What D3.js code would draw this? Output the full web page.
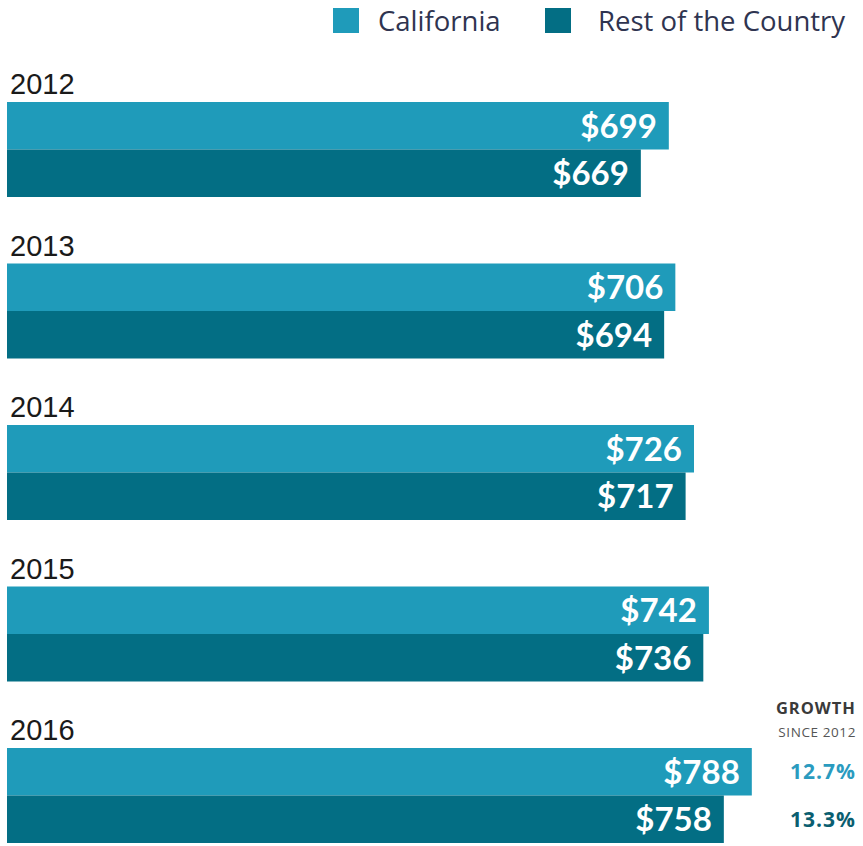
<!DOCTYPE html>
<html>
<head>
<meta charset="utf-8">
<script src="https://cdn.jsdelivr.net/npm/d3@7"></script>
<style>
  body { margin: 0; background: #fff; }
</style>
</head>
<body>
<div id="chart"></div>
<script>
const years = ["2012", "2013", "2014", "2015", "2016"];
const seriesNames = ["California", "Rest of the Country"];
const california = [699, 706, 726, 742, 788];
const restOfCountry = [669, 694, 717, 736, 758];
const growthLabels = ["12.7%", "13.3%"];

const colors = {"California": "#1f9bba", "Rest of the Country": "#036e84"};

const width = 863, height = 846;

const svg = d3.select("#chart")
    .append("svg")
    .attr("width", width)
    .attr("height", height);

const data = years.map((yr, i) => ({
    year: yr,
    values: [
        {name: seriesNames[0], value: california[i]},
        {name: seriesNames[1], value: restOfCountry[i]}
    ]
}));

// bars start at the left edge, value scale is not zero based in the original
const x = d3.scaleLinear()
    .domain([-10.7, 800])
    .range([7, 763]);

const y = d3.scaleBand()
    .domain(years)
    .range([102, 102 + 161.5 * years.length]);

const ySub = d3.scaleBand()
    .domain(seriesNames)
    .range([0, 95]);

const groups = svg.selectAll(".year")
    .data(data)
    .join("g")
    .attr("class", "year")
    .attr("transform", d => `translate(0,${y(d.year)})`);

groups.append("text")
    .attr("x", 10)
    .attr("y", -8)
    .style("font-family", "'Liberation Sans', Arial, sans-serif")
    .style("font-size", "29px")
    .style("fill", "#1a1a1a")
    .text(d => d.year);

groups.selectAll("rect")
    .data(d => d.values)
    .join("rect")
    .attr("x", x(-10.7))
    .attr("y", d => ySub(d.name))
    .attr("width", d => x(d.value) - x(-10.7))
    .attr("height", ySub.bandwidth())
    .attr("fill", d => colors[d.name]);

groups.selectAll(".val")
    .data(d => d.values)
    .join("text")
    .attr("class", "val")
    .attr("x", d => x(d.value) - 12)
    .attr("y", d => ySub(d.name) + ySub.bandwidth() / 2)
    .attr("dy", "0.36em")
    .attr("text-anchor", "end")
    .style("font-family", "Lato, sans-serif")
    .style("font-weight", "bold")
    .style("font-size", "33px")
    .style("fill", "#fff")
    .text(d => "$" + d.value);

// legend
const legend = svg.append("g");
const legendX = [333, 545];
const legendTextX = [378, 598];
seriesNames.forEach((name, i) => {
    legend.append("rect")
        .attr("x", legendX[i])
        .attr("y", 8)
        .attr("width", 26)
        .attr("height", 25)
        .attr("fill", colors[name]);
    legend.append("text")
        .attr("x", legendTextX[i])
        .attr("y", 31)
        .style("font-family", "'Open Sans', sans-serif")
        .style("font-size", "27.5px")
        .style("fill", "#2f3450")
        .text(name);
});

// growth annotation
const last = years[years.length - 1];
const ann = svg.append("g");
ann.append("text")
    .attr("x", 856)
    .attr("y", 714)
    .attr("text-anchor", "end")
    .style("font-family", "'Open Sans', sans-serif")
    .style("font-weight", "bold")
    .style("font-size", "16.5px")
    .style("letter-spacing", "1px")
    .style("fill", "#3a3a3a")
    .text("GROWTH");
ann.append("text")
    .attr("x", 856)
    .attr("y", 737)
    .attr("text-anchor", "end")
    .style("font-family", "'Open Sans', sans-serif")
    .style("font-size", "13.5px")
    .style("letter-spacing", "0.6px")
    .style("fill", "#555")
    .text("SINCE 2012");

ann.selectAll(".growth")
    .data(seriesNames)
    .join("text")
    .attr("class", "growth")
    .attr("x", 856)
    .attr("y", d => y(last) + ySub(d) + ySub.bandwidth() / 2)
    .attr("dy", "0.36em")
    .attr("text-anchor", "end")
    .style("font-family", "'Open Sans', sans-serif")
    .style("font-weight", "bold")
    .style("font-size", "21px")
    .style("letter-spacing", "1px")
    .style("fill", (d, i) => i === 0 ? "#2a9bbf" : "#0b5e70")
    .text((d, i) => growthLabels[i]);
</script>
</body>
</html>
